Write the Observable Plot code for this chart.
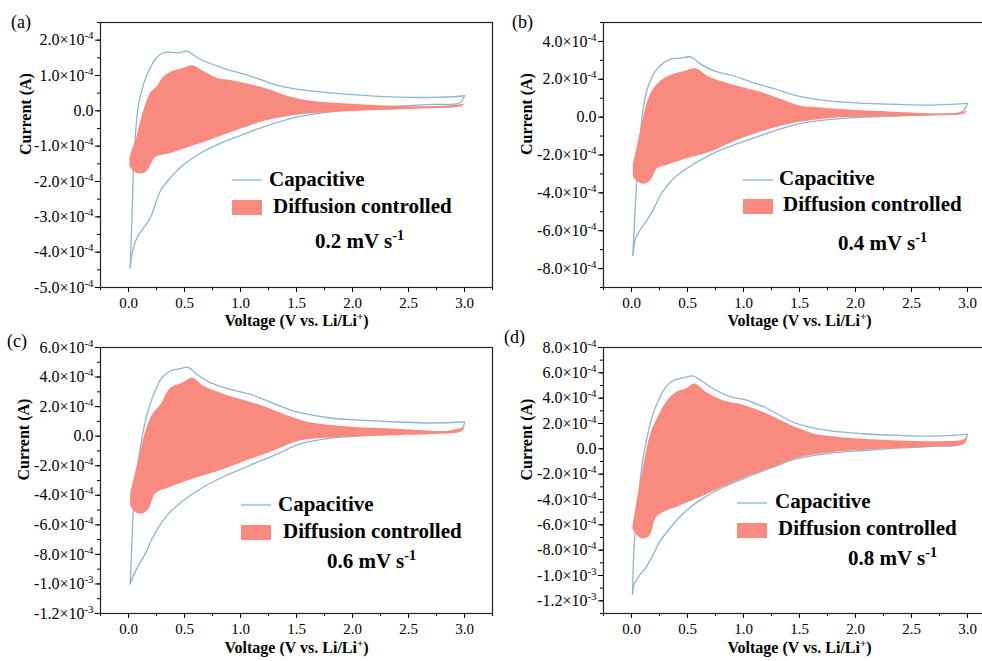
<!DOCTYPE html>
<html>
<head>
<meta charset="utf-8">
<script src="https://cdn.jsdelivr.net/npm/d3@7"></script>
<script src="https://cdn.jsdelivr.net/npm/@observablehq/plot@0.6"></script>
<style>
  html, body { margin: 0; padding: 0; background: #fff; overflow: hidden; }
  #fig { position: relative; width: 982px; height: 661px; overflow: hidden; background: #fff; }
  #fig > svg { position: absolute; overflow: visible; background: transparent; }
  #fig text, #fig tspan { font-family: 'Liberation Serif', 'Times New Roman', serif !important; fill: #000; }
  #fig g[aria-label="x-axis tick label"], #fig g[aria-label="x-axis tick label"] text { font-size: 15px !important; }
  #fig g[aria-label="y-axis tick label"], #fig g[aria-label="y-axis tick label"] text { font-size: 16px !important; }
</style>
</head>
<body>
<div id="fig"></div>
<script>
// Currents are given in units of 1e-4 A; voltages in V vs. Li/Li+.
const UNIT = 1e-4;

// ---- (a) 0.2 mV s-1 ----
const capUpA = [[0.015,-4.45],[0.03,-3.1],[0.045,-1.61],[0.06,-0.76],[0.09,0.18],[0.134,0.75],[0.179,1.12],[0.239,1.46],[0.3,1.63],[0.37,1.66],[0.45,1.64],[0.52,1.69],[0.56,1.62],[0.64,1.46],[0.79,1.27],[0.91,1.14],[1.0,1.07],[1.09,0.98],[1.2,0.86],[1.3,0.75],[1.4,0.67],[1.51,0.61],[1.8,0.51],[2.1,0.44],[2.4,0.39],[2.7,0.38],[2.98,0.42],[3.0,0.43]];
const capLoA = [[0.015,-4.45],[0.03,-4.07],[0.075,-3.6],[0.134,-3.31],[0.194,-3.03],[0.239,-2.65],[0.284,-2.27],[0.373,-1.9],[0.493,-1.52],[0.642,-1.2],[0.85,-0.88],[1.0,-0.7],[1.2,-0.46],[1.5,-0.18],[1.8,-0.03],[2.1,0.07],[2.4,0.13],[2.7,0.18],[2.96,0.23],[3.0,0.43]];
const difUpA = [[0.009,-1.33],[0.03,-1.09],[0.06,-0.86],[0.105,-0.29],[0.149,0.18],[0.194,0.51],[0.254,0.7],[0.313,0.98],[0.403,1.14],[0.493,1.22],[0.567,1.29],[0.672,1.12],[0.79,0.93],[0.91,0.87],[1.09,0.75],[1.21,0.65],[1.3,0.56],[1.42,0.42],[1.66,0.27],[1.95,0.21],[2.25,0.16],[2.55,0.13],[2.85,0.15],[3.0,0.2]];
const difLoA = [[0.009,-1.57],[0.045,-1.71],[0.075,-1.76],[0.134,-1.76],[0.164,-1.69],[0.194,-1.54],[0.224,-1.35],[0.254,-1.28],[0.373,-1.19],[0.552,-1.0],[0.731,-0.81],[0.91,-0.6],[1.05,-0.45],[1.21,-0.28],[1.5,-0.11],[1.8,-0.04],[2.1,0.01],[2.4,0.04],[2.7,0.07],[2.97,0.13],[3.0,0.2]];

// ---- (b) 0.4 mV s-1 ----
const capUpB = [[0.012,-7.29],[0.03,-5.17],[0.051,-2.87],[0.081,-0.74],[0.11,0.67],[0.155,1.74],[0.215,2.44],[0.289,2.88],[0.349,3.06],[0.439,3.12],[0.513,3.19],[0.543,3.15],[0.618,2.8],[0.737,2.44],[0.9,2.2],[1.07,1.85],[1.274,1.5],[1.48,1.12],[1.78,0.85],[2.08,0.73],[2.38,0.67],[2.68,0.64],[2.97,0.71],[3.0,0.72]];
const capLoB = [[0.012,-7.29],[0.036,-6.41],[0.051,-6.23],[0.096,-5.79],[0.14,-5.43],[0.2,-4.82],[0.26,-4.1],[0.304,-3.75],[0.364,-3.31],[0.499,-2.69],[0.707,-1.98],[0.9,-1.5],[1.18,-0.92],[1.48,-0.37],[1.78,-0.12],[2.08,0.0],[2.38,0.07],[2.68,0.14],[2.95,0.28],[3.0,0.72]];
const difUpB = [[0.012,-2.51],[0.051,-1.45],[0.096,-0.21],[0.14,0.85],[0.2,1.56],[0.275,2.0],[0.364,2.27],[0.468,2.44],[0.573,2.58],[0.678,2.18],[0.797,1.91],[0.95,1.65],[1.17,1.3],[1.37,0.88],[1.5,0.62],[1.63,0.53],[1.93,0.41],[2.23,0.32],[2.53,0.23],[2.83,0.19],[2.95,0.25],[3.0,0.36]];
const difLoB = [[0.012,-3.13],[0.051,-3.4],[0.11,-3.52],[0.17,-3.31],[0.23,-2.69],[0.32,-2.51],[0.499,-2.16],[0.707,-1.81],[0.9,-1.3],[1.16,-0.75],[1.45,-0.3],[1.78,-0.04],[2.08,0.02],[2.38,0.05],[2.68,0.09],[2.97,0.19],[3.0,0.36]];

// ---- (c) 0.6 mV s-1 ----
const capUpC = [[0.015,-10.0],[0.03,-7.39],[0.045,-4.67],[0.075,-2.4],[0.12,-0.13],[0.165,1.46],[0.224,2.82],[0.299,3.96],[0.373,4.41],[0.433,4.52],[0.537,4.64],[0.612,4.18],[0.731,3.62],[0.91,3.16],[1.09,2.82],[1.21,2.48],[1.3,2.2],[1.45,1.75],[1.54,1.57],[1.8,1.23],[2.1,1.07],[2.4,0.96],[2.7,0.89],[2.985,0.96],[3.0,0.97]];
const capLoC = [[0.015,-10.0],[0.045,-9.42],[0.09,-8.74],[0.15,-7.96],[0.21,-6.94],[0.269,-6.15],[0.358,-5.24],[0.493,-4.33],[0.672,-3.42],[0.881,-2.63],[1.0,-2.25],[1.09,-1.95],[1.33,-1.2],[1.52,-0.55],[1.806,-0.13],[2.1,0.03],[2.4,0.16],[2.7,0.28],[2.97,0.44],[3.0,0.97]];
const difUpC = [[0.015,-3.87],[0.06,-2.4],[0.104,-1.04],[0.149,0.32],[0.21,1.46],[0.284,2.14],[0.373,3.28],[0.478,3.62],[0.567,3.96],[0.672,3.39],[0.821,2.94],[0.91,2.7],[1.03,2.45],[1.21,2.02],[1.3,1.75],[1.42,1.4],[1.54,1.1],[1.66,0.89],[1.955,0.66],[2.25,0.55],[2.55,0.44],[2.85,0.37],[3.0,0.62]];
const difLoC = [[0.015,-4.67],[0.06,-5.13],[0.12,-5.24],[0.179,-4.9],[0.239,-3.87],[0.373,-3.42],[0.582,-2.85],[0.821,-2.29],[1.06,-1.61],[1.3,-0.95],[1.51,-0.32],[1.806,-0.09],[2.1,0.0],[2.4,0.07],[2.7,0.14],[2.97,0.32],[3.0,0.62]];

// ---- (d) 0.8 mV s-1 ----
const capUpD = [[0.009,-11.47],[0.024,-7.65],[0.054,-4.48],[0.098,-1.05],[0.143,1.06],[0.188,2.64],[0.248,3.97],[0.307,4.89],[0.382,5.42],[0.472,5.63],[0.546,5.76],[0.62,5.42],[0.725,4.76],[0.88,4.12],[1.0,3.9],[1.1,3.6],[1.19,3.28],[1.3,2.75],[1.45,2.08],[1.55,1.8],[1.78,1.42],[2.08,1.19],[2.38,1.06],[2.68,1.0],[2.99,1.14],[3.0,1.15]];
const capLoD = [[0.009,-11.47],[0.024,-10.68],[0.069,-10.02],[0.128,-9.37],[0.188,-8.44],[0.248,-7.39],[0.337,-6.33],[0.457,-5.14],[0.606,-4.09],[0.815,-3.03],[1.0,-2.35],[1.262,-1.45],[1.48,-0.78],[1.78,-0.34],[2.08,-0.13],[2.38,0.06],[2.68,0.19],[2.95,0.4],[3.0,1.15]];
const difUpD = [[0.009,-6.06],[0.039,-4.48],[0.083,-2.37],[0.128,-0.26],[0.173,1.32],[0.233,2.51],[0.307,3.7],[0.397,4.49],[0.486,4.76],[0.561,5.15],[0.665,4.49],[0.815,3.83],[0.985,3.5],[1.19,2.85],[1.3,2.4],[1.43,1.85],[1.53,1.5],[1.63,1.2],[1.93,0.88],[2.23,0.72],[2.53,0.61],[2.83,0.61],[2.95,0.7],[3.0,0.93]];
const difLoD = [[0.009,-6.33],[0.054,-6.86],[0.098,-7.07],[0.158,-6.86],[0.218,-5.41],[0.278,-5.01],[0.427,-4.48],[0.606,-3.82],[0.815,-2.97],[1.0,-2.28],[1.262,-1.42],[1.48,-0.7],[1.78,-0.27],[2.08,-0.08],[2.38,0.06],[2.68,0.19],[2.97,0.4],[3.0,0.93]];

// Axis ticks
const xTicks = [0, 0.5, 1.0, 1.5, 2.0, 2.5, 3.0];
const yTicksA = [-5e-4, -4e-4, -3e-4, -2e-4, -1e-4, 0, 1e-4, 2e-4];
const yTicksB = [-8e-4, -6e-4, -4e-4, -2e-4, 0, 2e-4, 4e-4];
const yTicksC = [-12e-4, -10e-4, -8e-4, -6e-4, -4e-4, -2e-4, 0, 2e-4, 4e-4, 6e-4];
const yTicksD = [-12e-4, -10e-4, -8e-4, -6e-4, -4e-4, -2e-4, 0, 2e-4, 4e-4, 6e-4, 8e-4];

const panelLetters = ["(a)", "(b)", "(c)", "(d)"];
const scanRates = ["0.2", "0.4", "0.6", "0.8"];
const xTitle = "Voltage (V vs. Li/Li^{+})";
const yTitle = "Current (A)";
const legendCap = "Capacitive";
const legendDif = "Diffusion controlled";

const BLUE = "#8db5d3";
const PINK = "#f98a80";
const FONT = "'Liberation Serif', 'Times New Roman', serif";

// Layout of the four panels (pixel geometry only)
const layout = [
  {left: 0,   top: 0,   width: 495, height: 330, ml: 100, mr: 3, mt: 22, mb: 43, yDomain: [-5e-4, 2.5e-4], yStep: 0.5e-4, ticks: yTicksA,
   cap: [capUpA, capLoA], dif: [difUpA, difLoA], xTitleDy: 38, yTitleDx: -75,
   letter: [11, 28], lg: {lineX: 232, lineY: 180, capX: 269, capY: 186, swY: 200, difX: 273, difY: 213, rateX: 315, rateY: 248}},
  {left: 491, top: 0,   width: 512, height: 330, ml: 112, mr: 8, mt: 22, mb: 43, yDomain: [-9e-4, 5e-4], yStep: 1e-4, ticks: yTicksB,
   cap: [capUpB, capLoB], dif: [difUpB, difLoB], xTitleDy: 38.5, yTitleDx: -77,
   letter: [21, 28], lg: {lineX: 252, lineY: 180, capX: 288, capY: 185, swY: 199, difX: 292, difY: 211, rateX: 347, rateY: 250}},
  {left: 0,   top: 330, width: 495, height: 331, ml: 100, mr: 3, mt: 17, mb: 48, yDomain: [-12e-4, 6e-4], yStep: 1e-4, ticks: yTicksC,
   cap: [capUpC, capLoC], dif: [difUpC, difLoC], xTitleDy: 39, yTitleDx: -77,
   letter: [7, 17], lg: {lineX: 241, lineY: 175, capX: 278, capY: 181, swY: 195, difX: 283, difY: 208, rateX: 327, rateY: 238}},
  {left: 491, top: 330, width: 512, height: 331, ml: 112, mr: 8, mt: 17, mb: 48, yDomain: [-13e-4, 8e-4], yStep: 1e-4, ticks: yTicksD,
   cap: [capUpD, capLoD], dif: [difUpD, difLoD], xTitleDy: 39, yTitleDx: -77,
   letter: [13, 13], lg: {lineX: 246, lineY: 173, capX: 284, capY: 178, swY: 193, difX: 287, difY: 205, rateX: 357, rateY: 235}}
];

// "2.0×10^{-4}" style labels; superscripts are set afterwards
function sci(v) {
  if (Math.abs(v) < 1e-12) return "0.0";
  const e = Math.floor(Math.log10(Math.abs(v)) + 1e-9);
  const m = v / Math.pow(10, e);
  return `${m.toFixed(1)}×10^{${e}}`;
}

// Turn ^{...} markers inside text elements into raised tspans
function supify(root) {
  const NS = "http://www.w3.org/2000/svg";
  root.querySelectorAll("text").forEach(t => {
    const s = t.textContent;
    if (!s.includes("^{")) return;
    while (t.firstChild) t.removeChild(t.firstChild);
    const re = /\^\{([^}]*)\}/g;
    let last = 0, m;
    const add = (str, sup) => {
      if (!str) return;
      const ts = document.createElementNS(NS, "tspan");
      ts.textContent = str;
      if (sup) { ts.setAttribute("baseline-shift", "super"); ts.setAttribute("font-size", "68%"); }
      t.appendChild(ts);
    };
    while ((m = re.exec(s))) {
      add(s.slice(last, m.index), false);
      add(m[1], true);
      last = m.index + m[0].length;
    }
    add(s.slice(last), false);
  });
}

const toRows = (pts, branch) => pts.map(([v, i]) => ({v, i: i * UNIT, branch}));

const fig = document.getElementById("fig");

layout.forEach((p, k) => {
  const capRows = [...toRows(p.cap[0], "anodic"), ...toRows(p.cap[1], "cathodic")];
  // diffusion region: upper edge left→right, lower edge back right→left
  const difRows = [...toRows(p.dif[0], "u"), ...toRows(p.dif[1], "l").reverse()];
  const xMinor = d3.range(-0.25, 3.26, 0.25);
  const yMinor = d3.range(Math.round(p.yDomain[0] / p.yStep), Math.round(p.yDomain[1] / p.yStep) + 1).map(n => n * p.yStep);

  const svg = Plot.plot({
    width: p.width,
    height: p.height,
    marginLeft: p.ml, marginRight: p.mr, marginTop: p.mt, marginBottom: p.mb,
    x: {domain: [-0.25, 3.25]},
    y: {domain: p.yDomain},
    marks: [
      Plot.line(capRows, {x: "v", y: "i", z: "branch", stroke: BLUE, strokeWidth: 1.3, curve: "catmull-rom"}),
      Plot.line(difRows, {x: "v", y: "i", fill: PINK, stroke: "none", curve: "catmull-rom"}),
      Plot.frame({stroke: "#222", strokeWidth: 1.2}),
      Plot.axisX({ticks: xMinor, tickSize: 3, tickFormat: () => "", label: null}),
      Plot.axisX({ticks: xTicks, tickSize: 5, tickPadding: 5, tickFormat: d => d.toFixed(1), label: null}),
      Plot.axisY({ticks: yMinor, tickSize: 3, tickFormat: () => "", label: null}),
      Plot.axisY({ticks: p.ticks, tickSize: 5, tickPadding: 2, tickFormat: sci, label: null}),
      Plot.text([xTitle], {frameAnchor: "bottom", dy: p.xTitleDy, text: d => d, fontWeight: "bold", fontSize: 16}),
      Plot.text([yTitle], {frameAnchor: "left", dx: p.yTitleDx, rotate: -90, text: d => d, fontWeight: "bold", fontSize: 16})
    ]
  });
  svg.setAttribute("font-family", FONT);
  svg.setAttribute("font-size", 15);

  // minor ticks carry no labels
  svg.querySelectorAll("text").forEach(t => { if (t.textContent === "") t.remove(); });

  // legend and annotations
  const g = d3.select(svg).append("g").attr("font-family", FONT).attr("text-anchor", "start");
  const L = p.lg;
  g.append("line").attr("x1", L.lineX).attr("x2", L.lineX + 30).attr("y1", L.lineY).attr("y2", L.lineY)
    .attr("stroke", BLUE).attr("stroke-width", 1.3);
  g.append("text").attr("x", L.capX).attr("y", L.capY).attr("font-size", 21).attr("font-weight", "bold").text(legendCap);
  g.append("rect").attr("x", L.lineX).attr("y", L.swY).attr("width", 30).attr("height", 15).attr("fill", PINK);
  g.append("text").attr("x", L.difX).attr("y", L.difY).attr("font-size", 21).attr("font-weight", "bold").text(legendDif);
  g.append("text").attr("x", L.rateX).attr("y", L.rateY).attr("font-size", 21).attr("font-weight", "bold")
    .text(`${scanRates[k]} mV s^{-1}`);
  g.append("text").attr("x", p.letter[0]).attr("y", p.letter[1]).attr("font-size", 18).text(panelLetters[k]);

  supify(svg);
  svg.style.left = p.left + "px";
  svg.style.top = p.top + "px";
  fig.appendChild(svg);
});
</script>
</body>
</html>
